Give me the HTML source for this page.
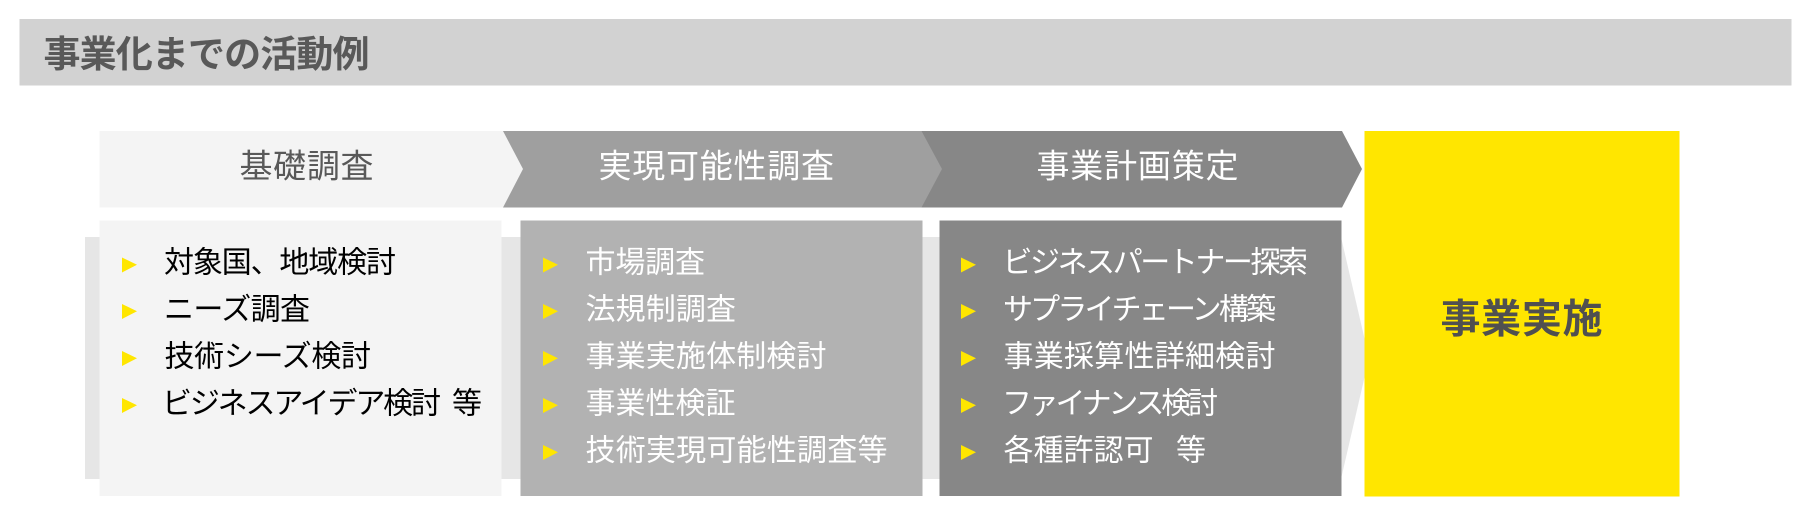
<!DOCTYPE html>
<html lang="ja">
<head>
<meta charset="utf-8">
<title>事業化までの活動例</title>
<style>
html,body{margin:0;padding:0;background:#fff;width:1800px;height:517px;overflow:hidden}
svg{display:block}
text{font-family:"Liberation Sans","Noto Sans CJK JP",sans-serif}
.r{font-size:30px}
.k{fill:#000}
.w{fill:#fff}
</style>
</head>
<body>
<svg xmlns="http://www.w3.org/2000/svg" width="1800" height="517" viewBox="0 0 1800 517">
<rect x="19.5" y="19" width="1772" height="66.5" fill="#d2d2d2"/>
<text x="43.5" y="67" font-size="37" font-weight="700" fill="#595959" textLength="326" lengthAdjust="spacing">事業化までの活動例</text>

<polygon points="85,237 1341,237 1369,358 1341,479 85,479" fill="#e6e6e6"/>

<polygon points="921.5,131 1342,131 1362,169 1342,207.5 921.5,207.5" fill="#878787"/>
<polygon points="503,131 921.5,131 942,169 921.5,207.5 503,207.5" fill="#9f9f9f"/>
<polygon points="99.5,131 503,131 523,169 503,207.5 99.5,207.5" fill="#f4f4f4"/>

<text x="239.5" y="177.5" font-size="33" fill="#595959" textLength="134" lengthAdjust="spacing">基礎調査</text>
<text x="598.5" y="177.5" font-size="33" fill="#fff" textLength="235.5" lengthAdjust="spacing">実現可能性調査</text>
<text x="1036.5" y="177.5" font-size="33" fill="#fff" textLength="202" lengthAdjust="spacing">事業計画策定</text>

<rect x="99.5" y="220.5" width="402" height="275.5" fill="#f4f4f4"/>
<rect x="520.5" y="220.5" width="402" height="275.5" fill="#b2b2b2"/>
<rect x="939.5" y="220.5" width="402" height="275.5" fill="#878787"/>
<rect x="1364.5" y="131" width="315" height="365.5" fill="#ffe600"/>

<g fill="#ffe600">
<polygon points="122,257.5 137,264.8 122,272.5"/>
<polygon points="122,304 137,311.3 122,319"/>
<polygon points="122,351 137,358.3 122,366"/>
<polygon points="122,398 137,405.3 122,413"/>

<polygon points="543,257.5 558,264.8 543,272.5"/>
<polygon points="543,304 558,311.3 543,319"/>
<polygon points="543,351 558,358.3 543,366"/>
<polygon points="543,398 558,405.3 543,413"/>
<polygon points="543,445 558,452.3 543,460"/>

<polygon points="961,257.5 976,264.8 961,272.5"/>
<polygon points="961,304 976,311.3 961,319"/>
<polygon points="961,351 976,358.3 961,366"/>
<polygon points="961,398 976,405.3 961,413"/>
<polygon points="961,445 976,452.3 961,460"/>
</g>

<g>
<text class="r k" x="164" y="272.5" textLength="232" lengthAdjust="spacing">対象国、地域検討</text>
<text class="r k" x="164" y="319.5" textLength="146" lengthAdjust="spacing">ニーズ調査</text>
<text class="r k" x="164.5" y="366.5" textLength="206.5" lengthAdjust="spacing">技術シーズ検討</text>
<text class="r k" x="162" y="413.5" textLength="279" lengthAdjust="spacing">ビジネスアイデア検討</text>
<text class="r k" x="452" y="413.5">等</text>
</g>

<g>
<text class="r w" x="585.5" y="272.5" textLength="119.5" lengthAdjust="spacing">市場調査</text>
<text class="r w" x="585.5" y="319.5" textLength="150.5" lengthAdjust="spacing">法規制調査</text>
<text class="r w" x="585.5" y="366.5" textLength="241" lengthAdjust="spacing">事業実施体制検討</text>
<text class="r w" x="585.5" y="413.5" textLength="150" lengthAdjust="spacing">事業性検証</text>
<text class="r w" x="585.5" y="460.5" textLength="302" lengthAdjust="spacing">技術実現可能性調査等</text>

<text class="r w" x="1002.5" y="272.5" textLength="305.5" lengthAdjust="spacing">ビジネスパートナー探索</text>
<text class="r w" x="1003" y="319.5" textLength="273" lengthAdjust="spacing">サプライチェーン構築</text>
<text class="r w" x="1003.5" y="366.5" textLength="272" lengthAdjust="spacing">事業採算性詳細検討</text>
<text class="r w" x="1002" y="413.5" textLength="216" lengthAdjust="spacing">ファイナンス検討</text>
<text class="r w" x="1003.5" y="460.5" textLength="150" lengthAdjust="spacing">各種許認可</text>
<text class="r w" x="1176" y="460.5">等</text>
</g>

<text x="1440.5" y="332.5" font-size="40" font-weight="700" fill="#505050" textLength="162" lengthAdjust="spacing">事業実施</text>
</svg>
</body>
</html>
